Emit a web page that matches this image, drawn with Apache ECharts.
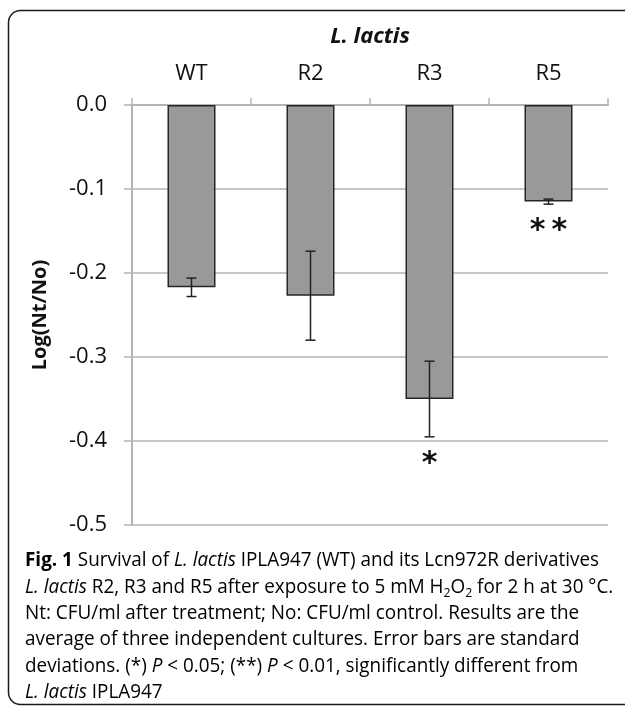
<!DOCTYPE html>
<html>
<head>
<meta charset="utf-8">
<script src="https://cdn.jsdelivr.net/npm/echarts@6/dist/echarts.min.js"></script>
<style>
html,body{margin:0;padding:0;background:#fff;}
#chart{width:625px;height:708px;}
</style>
</head>
<body>
<div id="chart"></div>
<script>
// ---- data ----
const categories = ['WT', 'R2', 'R3', 'R5'];
const means = [-0.217, -0.227, -0.350, -0.115];
const errors = [0.011, 0.053, 0.045, 0.003];
const significance = ['', '', '*', '**'];
const yMin = -0.5, yMax = 0.0, yInterval = 0.1;
const chartTitle = 'L. lactis';
const yAxisName = 'Log(Nt/No)';

// caption lines (segments: [text, style])
const captionLines = [
  [['Fig. 1', 'b'], [' Survival of ', 'n'], ['L. lactis', 'i'], [' IPLA947 (WT) and its Lcn972R derivatives', 'n']],
  [['L. lactis', 'i'], [' R2, R3 and R5 after exposure to 5 mM H', 'n'], ['2', 'sub'], ['O', 'n'], ['2', 'sub'], [' for 2 h at 30 °C.', 'n']],
  [['Nt: CFU/ml after treatment; No: CFU/ml control. Results are the', 'n']],
  [['average of three independent cultures. Error bars are standard', 'n']],
  [['deviations. (*) ', 'n'], ['P', 'i'], [' < 0.05; (**) ', 'n'], ['P', 'i'], [' < 0.01, significantly different from', 'n']],
  [['L. lactis', 'i'], [' IPLA947', 'n']]
];

// ---- layout helpers ----
const FONT = '"Open Sans", "Noto Sans", sans-serif';
const capFont = 20;
const capStyles = {
  n: {fontSize: capFont, fontFamily: FONT, color: '#1c1c1c', lineHeight: 26},
  i: {fontSize: capFont, fontFamily: FONT, fontStyle: 'italic', color: '#1c1c1c', lineHeight: 26},
  b: {fontSize: capFont, fontFamily: FONT, fontWeight: 'bold', color: '#1c1c1c', lineHeight: 26},
  sub: {fontSize: 13, fontFamily: FONT, color: '#1c1c1c', lineHeight: 14, verticalAlign: 'bottom'}
};
const mctx = document.createElement('canvas').getContext('2d');
function segFont(s) {
  const st = capStyles[s];
  return (st.fontStyle || 'normal') + ' ' + (st.fontWeight || 'normal') + ' ' + st.fontSize + 'px ' + FONT;
}
function lineWidth(line) {
  let w = 0;
  line.forEach(([t, s]) => { mctx.font = segFont(s); w += mctx.measureText(t).width; });
  return w;
}
function esc(t) { return t.replace(/[{}|]/g, ''); }
function richStr(line) { return line.map(([t, s]) => '{' + s + '|' + esc(t) + '}').join(''); }

const capScale = 574 / lineWidth(captionLines[0]);
const capElems = captionLines.map((line, k) => ({
  type: 'text',
  x: 25,
  y: 560.5 + k * 26.4,
  scaleX: capScale,
  style: {
    text: richStr(line),
    rich: capStyles,
    x: 0, y: 0,
    align: 'left', verticalAlign: 'middle',
    textAlign: 'left', textVerticalAlign: 'middle'
  },
  z: 10
}));

const chart = echarts.init(document.getElementById('chart'), null, {renderer: 'canvas'});
const gridColor = '#b4b4b4';

const option = {
  animation: false,
  backgroundColor: '#fff',
  grid: {left: 132, right: 17, top: 105, bottom: 183, containLabel: false},
  xAxis: {
    type: 'category',
    position: 'top',
    data: categories,
    axisLine: {show: true, lineStyle: {color: gridColor, width: 2}},
    axisTick: {show: true, length: 7, inside: false, alignWithLabel: false, lineStyle: {color: gridColor, width: 1.5}},
    axisLabel: {fontSize: 22, fontFamily: FONT, color: '#111', margin: 20},
    splitLine: {show: false}
  },
  yAxis: {
    type: 'value',
    min: yMin, max: yMax, interval: yInterval,
    name: yAxisName,
    nameLocation: 'middle',
    nameRotate: 90,
    nameGap: 82,
    nameTextStyle: {fontSize: 20, fontWeight: 'bold', fontFamily: FONT, color: '#111'},
    axisLine: {show: true, lineStyle: {color: gridColor, width: 2}},
    axisTick: {show: true, length: 8, inside: false, lineStyle: {color: gridColor, width: 1.5}},
    axisLabel: {fontSize: 22, fontFamily: FONT, color: '#111', margin: 25, formatter: v => v.toFixed(1)},
    splitLine: {show: true, lineStyle: {color: gridColor, width: 1.5}}
  },
  series: [
    {
      type: 'bar',
      data: means,
      barWidth: 48,
      itemStyle: {color: '#999999', borderColor: '#262626', borderWidth: 1.5},
      z: 2
    },
    {
      type: 'custom',
      data: categories.map((c, i) => [i, means[i], errors[i]]),
      encode: {x: 0, y: 1},
      z: 5,
      renderItem: function (params, api) {
        const i = api.value(0), m = api.value(1), e = api.value(2);
        const top = api.coord([i, m + e]);
        const bot = api.coord([i, m - e]);
        const hw = 5;
        const st = {stroke: '#222', lineWidth: 1.5};
        return {
          type: 'group',
          children: [
            {type: 'line', shape: {x1: top[0], y1: top[1], x2: bot[0], y2: bot[1]}, style: st},
            {type: 'line', shape: {x1: top[0] - hw, y1: top[1], x2: top[0] + hw, y2: top[1]}, style: st},
            {type: 'line', shape: {x1: bot[0] - hw, y1: bot[1], x2: bot[0] + hw, y2: bot[1]}, style: st}
          ]
        };
      }
    },
    {
      type: 'custom',
      data: categories.map((c, i) => [i, means[i] - errors[i], significance[i]]),
      encode: {x: 0, y: 1},
      z: 6,
      renderItem: function (params, api) {
        const i = params.dataIndex;
        const p = api.coord([api.value(0), api.value(1)]);
        return {
          type: 'text',
          style: {
            text: significance[i].split('').join('\u2009'),
            x: p[0], y: p[1] + 27,
            align: 'center', verticalAlign: 'middle',
            textAlign: 'center', textVerticalAlign: 'middle',
            fontSize: 30, fontWeight: 'bold', fontFamily: '"DejaVu Sans", sans-serif',
            fill: '#111'
          }
        };
      }
    }
  ],
  graphic: [
    {
      type: 'rect',
      shape: {x: 8.5, y: 10.5, width: 640, height: 694, r: 12},
      style: {fill: 'none', stroke: '#1a1a1a', lineWidth: 1.5},
      z: 0, silent: true
    },
    {
      type: 'text',
      style: {
        text: chartTitle,
        x: 370, y: 37,
        align: 'center', verticalAlign: 'middle',
        textAlign: 'center', textVerticalAlign: 'middle',
        fontSize: 22, fontWeight: 'bold', fontStyle: 'italic', fontFamily: FONT,
        fill: '#111'
      },
      z: 10
    }
  ].concat(capElems)
};
chart.setOption(option);
</script>
</body>
</html>
